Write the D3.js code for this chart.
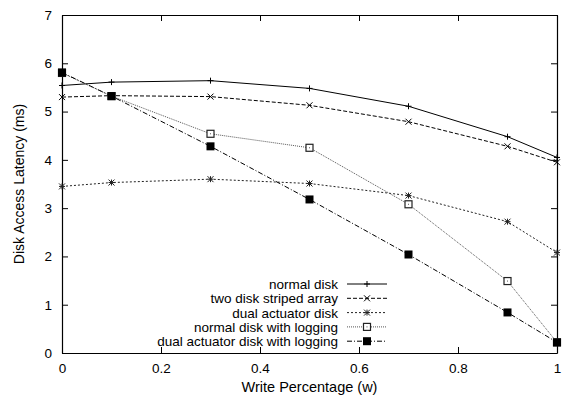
<!DOCTYPE html>
<html>
<head>
<meta charset="utf-8">
<script src="https://d3js.org/d3.v7.min.js"></script>
<style>
  body { margin: 0; background: white; }
  text { font-family: "Liberation Sans", Arial, sans-serif; }
</style>
</head>
<body>
<div id="container"></div>
<script>
// disk access latency vs write percentage
const writePct = [0, 0.1, 0.3, 0.5, 0.7, 0.9, 1.0]
const normalDisk = [5.54, 5.61, 5.64, 5.48, 5.11, 4.48, 4.05]
const stripedArray = [5.30, 5.33, 5.31, 5.13, 4.79, 4.28, 3.95]
const dualActuator = [3.45, 3.53, 3.60, 3.51, 3.26, 2.72, 2.08]
const normalLogging = [5.80, 5.32, 4.54, 4.25, 3.08, 1.49, 0.22]
const dualLogging = [5.81, 5.32, 4.28, 3.18, 2.04, 0.84, 0.22]
const seriesNames = ["normal disk", "two disk striped array", "dual actuator disk", "normal disk with logging", "dual actuator disk with logging"]
const xTicks = [0, 0.2, 0.4, 0.6, 0.8, 1]
const yTicks = [0, 1, 2, 3, 4, 5, 6, 7]

const w = 564, h = 397
const m = { top: 15, right: 7, bottom: 44, left: 62 }

const svg = d3.select("#container").append("svg").attr("width", w).attr("height", h)

const x = d3.scaleLinear().domain([0, 1]).range([m.left, w - m.right])
const y = d3.scaleLinear().domain([0, 7]).range([h - m.bottom, m.top])

const styles = [
    { data: normalDisk, dash: null, color: "#000", marker: "plus" },
    { data: stripedArray, dash: "4,2", color: "#000", marker: "cross" },
    { data: dualActuator, dash: "2,2", color: "#222", marker: "star" },
    { data: normalLogging, dash: "1,1", color: "#555", marker: "box" },
    { data: dualLogging, dash: "5,2,1,2", color: "#000", marker: "fbox" }
]

// axes (ticks inward, mirrored)
const tick = 6, fmt = d3.format("")
svg.append("g").attr("transform", `translate(0,${y(0)})`)
    .call(d3.axisBottom(x).tickValues(xTicks).tickSizeInner(-tick).tickSizeOuter(0).tickPadding(10).tickFormat(fmt))
svg.append("g").attr("transform", `translate(0,${y(7)})`)
    .call(d3.axisTop(x).tickValues(xTicks).tickSizeInner(-tick).tickSizeOuter(0).tickFormat(""))
svg.append("g").attr("transform", `translate(${x(0)},0)`)
    .call(d3.axisLeft(y).tickValues(yTicks).tickSizeInner(-tick).tickSizeOuter(0).tickPadding(10).tickFormat(fmt))
svg.append("g").attr("transform", `translate(${x(1)},0)`)
    .call(d3.axisRight(y).tickValues(yTicks).tickSizeInner(-tick).tickSizeOuter(0).tickFormat(""))
svg.selectAll(".domain").attr("stroke", "#000").attr("stroke-width", 1.2)
svg.selectAll(".tick line").attr("stroke", "#000")
svg.selectAll(".tick text").attr("font-size", 13.5).attr("fill", "#000")
    .style("font-family", "Liberation Sans, Arial, sans-serif")

svg.append("text").attr("x", (x(0) + x(1)) / 2).attr("y", 392).attr("text-anchor", "middle")
    .attr("font-size", 14.5).text("Write Percentage (w)")
svg.append("text").attr("transform", `translate(24,${(y(0) + y(7)) / 2}) rotate(-90)`)
    .attr("text-anchor", "middle").attr("font-size", 14).text("Disk Access Latency (ms)")

function marker(g, type, cx, cy, color) {
    const s = 3
    if (type === "plus" || type === "star") {
        g.append("path").attr("d", `M${cx - s},${cy}H${cx + s}M${cx},${cy - s}V${cy + s}`).attr("stroke", color).attr("fill", "none")
    }
    if (type === "cross" || type === "star") {
        g.append("path").attr("d", `M${cx - s},${cy - s}L${cx + s},${cy + s}M${cx - s},${cy + s}L${cx + s},${cy - s}`).attr("stroke", color).attr("fill", "none")
    }
    if (type === "box") {
        g.append("rect").attr("x", cx - 3.5).attr("y", cy - 3.5).attr("width", 7).attr("height", 7)
            .attr("fill", "white").attr("stroke", "#222").attr("stroke-width", 1.2)
        g.append("rect").attr("x", cx - 0.5).attr("y", cy - 0.5).attr("width", 1).attr("height", 1).attr("fill", "#555")
    }
    if (type === "fbox") {
        g.append("rect").attr("x", cx - 4).attr("y", cy - 4).attr("width", 8).attr("height", 8).attr("fill", "#000")
    }
}

const line = d3.line().x((d, i) => x(writePct[i])).y(d => y(d))

styles.forEach(s => {
    svg.append("path").datum(s.data).attr("d", line).attr("fill", "none")
        .attr("stroke", s.color).attr("stroke-width", 1).attr("stroke-dasharray", s.dash)
})
styles.forEach(s => {
    const g = svg.append("g")
    s.data.forEach((v, i) => marker(g, s.marker, x(writePct[i]), y(v), s.color))
})

// legend
const legendY = 284, legendStep = 14.3
styles.forEach((s, i) => {
    const ly = legendY + i * legendStep
    svg.append("text").attr("x", 338).attr("y", ly + 5).attr("text-anchor", "end").attr("font-size", 13.5).text(seriesNames[i])
    svg.append("path").attr("d", `M347,${ly}H387`).attr("fill", "none")
        .attr("stroke", s.color).attr("stroke-dasharray", s.dash)
    const g = svg.append("g")
    marker(g, s.marker, 367, ly, s.color)
})
</script>
</body>
</html>
